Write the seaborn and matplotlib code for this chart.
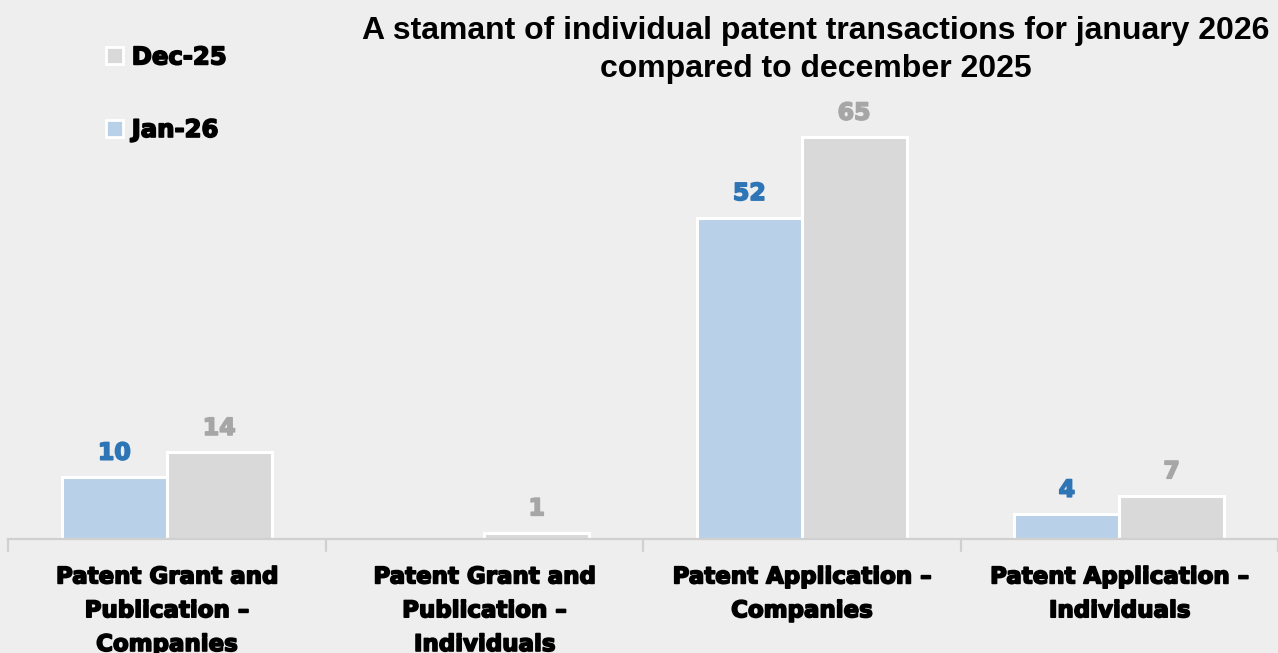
import pandas as pd
import matplotlib.pyplot as plt
import matplotlib.patheffects as pe
from matplotlib import font_manager as fm
import seaborn as sns
from matplotlib.patches import Patch

categories = [
    "Patent Grant and\nPublication –\nCompanies",
    "Patent Grant and\nPublication –\nIndividuals",
    "Patent Application –\nCompanies",
    "Patent Application –\nIndividuals",
]
jan26 = [10, 0, 52, 4]
dec25 = [14, 1, 65, 7]
series = ["Jan-26", "Dec-25"]

title = "A stamant of individual patent transactions for january 2026\ncompared to december 2025"

BG = "#EEEEEE"
BAR_COLORS = {"Jan-26": "#B9D1E8", "Dec-25": "#D9D9D9"}
LABEL_COLORS = {"Jan-26": "#2E75B6", "Dec-25": "#A6A6A6"}
HEAVY = ["DejaVu Sans"]


def heavy(color, w=1.2):
    # fake a black weight by stroking the bold glyphs
    return [pe.withStroke(linewidth=w, foreground=color)]


def title_font():
    for f in fm.fontManager.ttflist:
        if f.fname.endswith("LiberationSans-Bold.ttf"):
            return fm.FontProperties(fname=f.fname, size=23)
    return fm.FontProperties(family="DejaVu Sans", weight="bold", size=19.5)


def build_frame():
    rows = []
    for cat, j, d in zip(categories, jan26, dec25):
        rows.append({"category": cat, "period": "Jan-26", "count": j})
        rows.append({"category": cat, "period": "Dec-25", "count": d})
    return pd.DataFrame(rows)


def main():
    sns.set_style("white")
    df = build_frame()

    fig = plt.figure(figsize=(12.78, 6.53), dpi=100, facecolor=BG)
    ax = fig.add_axes([8 / 1278, 114 / 653, 1 - 8 / 1278, 492 / 653])
    ax.set_facecolor(BG)

    sns.barplot(data=df, x="category", y="count", hue="period",
                hue_order=series, order=categories, palette=BAR_COLORS,
                saturation=1, width=0.66, gap=0, edgecolor="white",
                linewidth=2.2, legend=False, ax=ax)

    # value labels, skip zero values
    for cont, name in zip(ax.containers, series):
        for bar in cont:
            if bar.get_height() == 0:
                bar.set_visible(False)
        labels = [f"{v:g}" if v > 0 else "" for v in cont.datavalues]
        txts = ax.bar_label(cont, labels=labels, padding=9,
                            color=LABEL_COLORS[name], fontsize=17,
                            fontweight="bold", family=HEAVY)
        for t in txts:
            t.set_path_effects(heavy(LABEL_COLORS[name]))

    ax.set_xlim(-0.5, 3.5)
    ax.set_ylim(0, 79.6)
    ax.set_yticks([])
    ax.set_xlabel("")
    ax.set_ylabel("")
    for side in ["top", "right", "left"]:
        ax.spines[side].set_visible(False)
    ax.spines["bottom"].set_color("#D0D0D0")
    ax.spines["bottom"].set_linewidth(1.6)

    # category labels centered, tick marks between groups
    ax.set_xticks(range(len(categories)))
    ax.set_xticklabels(categories, fontsize=16.5, fontweight="bold",
                       family=HEAVY, linespacing=1.6, color="black")
    for t in ax.get_xticklabels():
        t.set_path_effects(heavy("black"))
    ax.tick_params(axis="x", length=0, pad=19)
    for x in [-0.5, 0.5, 1.5, 2.5, 3.5]:
        ax.plot([x, x], [0, -1.9], color="#D0D0D0", lw=1.6, clip_on=False)

    fig.text(0.638, 0.975, title, ha="center", va="top",
             fontproperties=title_font(), color="black", linespacing=1.32)

    handles = [Patch(facecolor=BAR_COLORS["Dec-25"], edgecolor="white", lw=2),
               Patch(facecolor=BAR_COLORS["Jan-26"], edgecolor="white", lw=2)]
    leg = fig.legend(handles, ["Dec-25", "Jan-26"], loc="upper left",
                     bbox_to_anchor=(0.066, 0.964), frameon=False,
                     prop={"family": HEAVY, "weight": "bold", "size": 17.5},
                     handlelength=0.7, handleheight=0.7, handletextpad=0.35,
                     labelspacing=2.0)
    for t in leg.get_texts():
        t.set_color("black")
        t.set_path_effects(heavy("black"))

    fig.savefig("out.png", dpi=100, facecolor=BG)


if __name__ == "__main__":
    main()
